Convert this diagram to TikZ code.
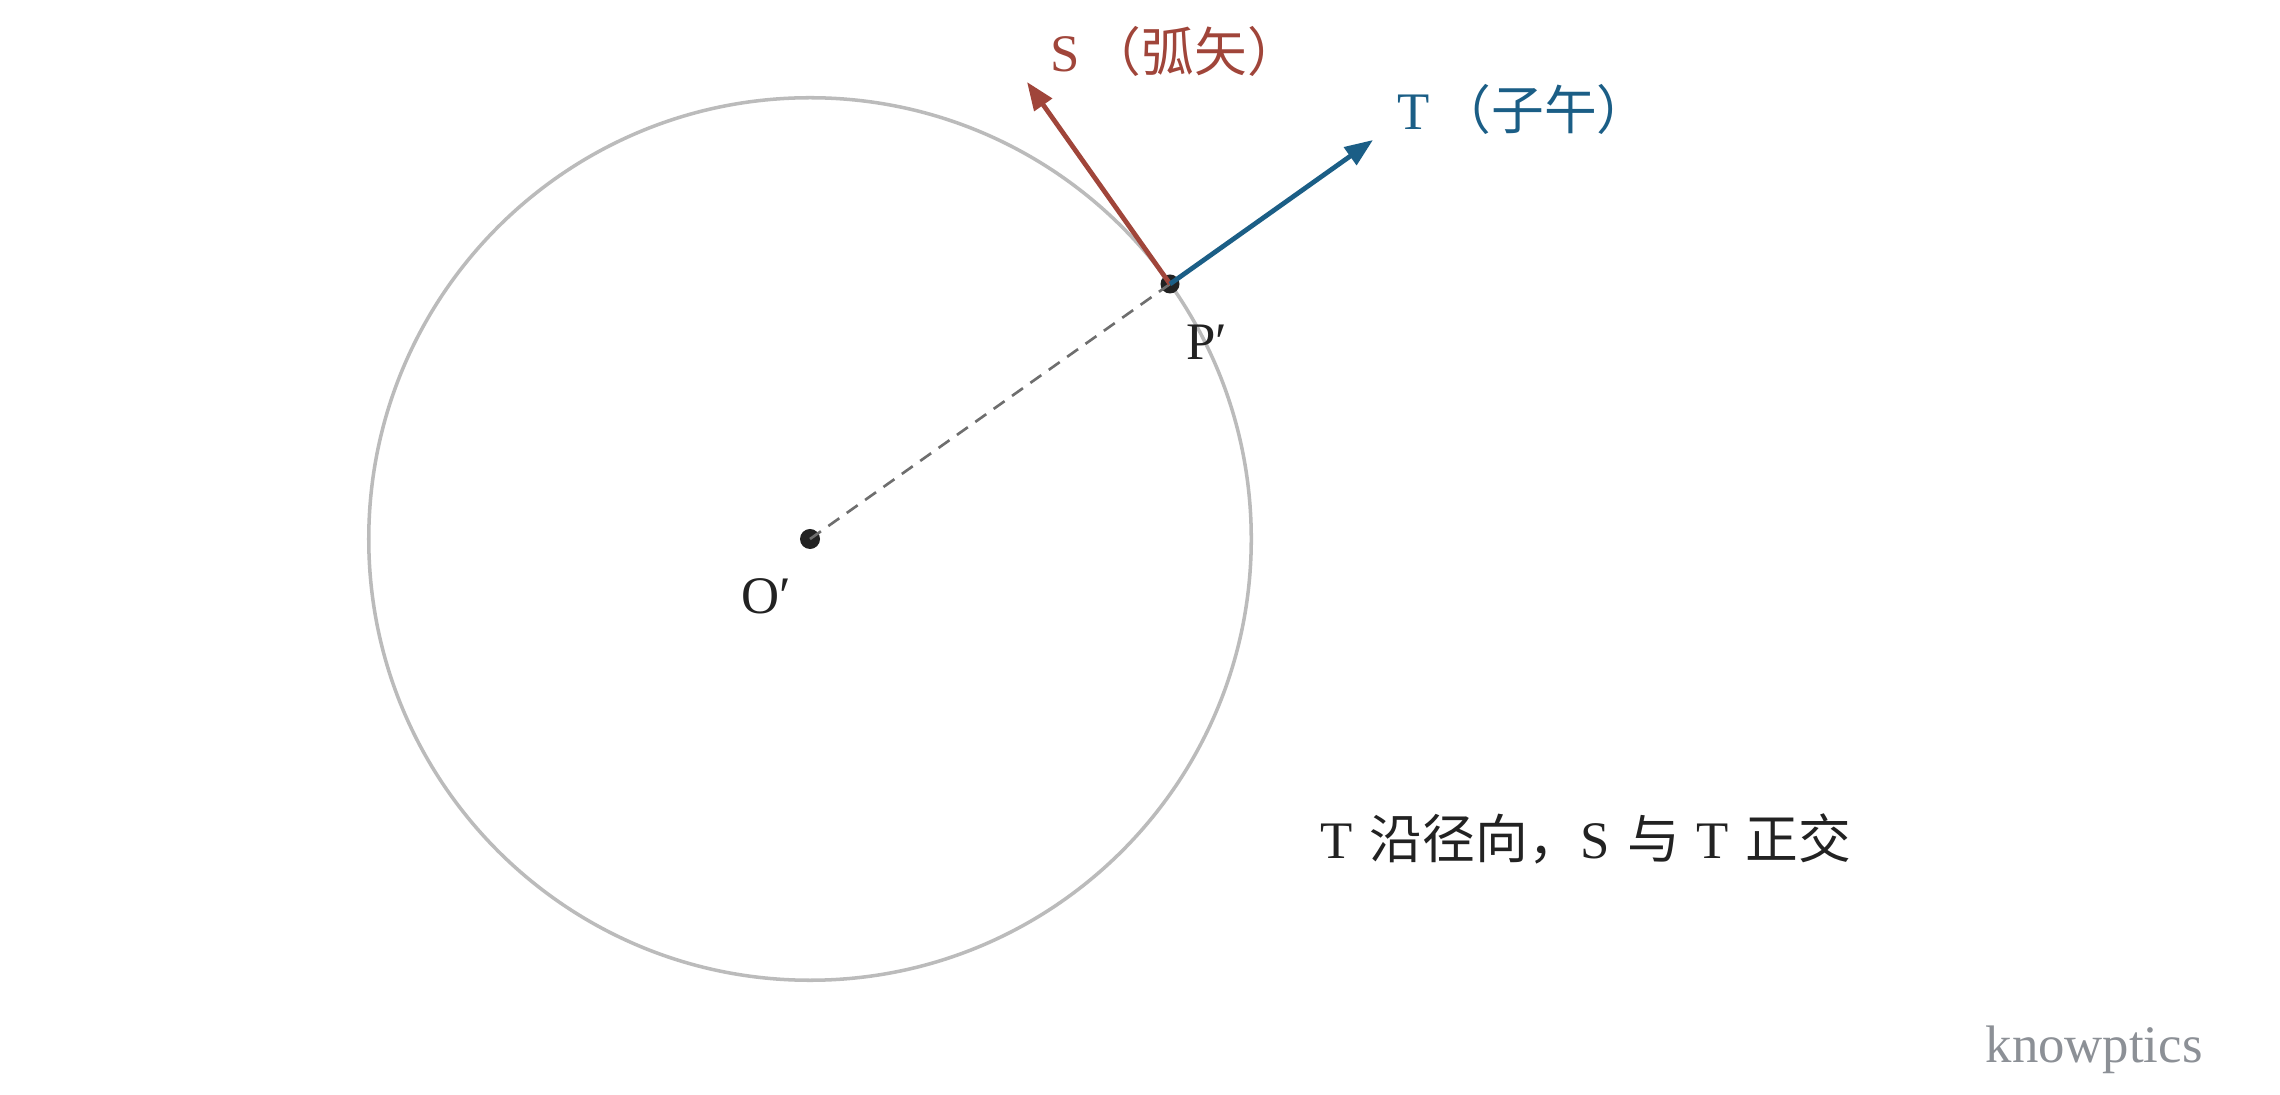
\documentclass[tikz,border=0pt]{standalone}
\usepackage{fontspec}
\setmainfont{Liberation Serif}
\newfontfamily\cjk{Noto Sans CJK SC}
\usetikzlibrary{arrows.meta}
\definecolor{sred}{HTML}{A0453A}
\definecolor{tblue}{HTML}{1B5E86}
\definecolor{circgray}{HTML}{BBBBBB}
\definecolor{dashgray}{HTML}{6E6E6E}
\definecolor{ink}{HTML}{222222}
\definecolor{wmark}{HTML}{8C9096}
\newcommand{\gapsp}{\hspace{0.32em}}
\begin{document}
\begin{tikzpicture}[x=0.01cm,y=-0.01cm,
  dotnode/.style={circle,fill=ink,inner sep=0pt,minimum size=0.2cm},
  lbl/.style={inner sep=0pt,font=\fontsize{15pt}{17pt}\selectfont},
  vec/.style={line width=1.35pt,-{Triangle[length=8pt,width=6pt]}},
  radial/.style={dashgray,line width=0.75pt,dash pattern=on 3.8pt off 2.6pt}]
\useasboundingbox (0,0) rectangle (2280,1095);
\fill[white] (0,0) rectangle (2280,1095);
% circle
\node[circle,draw=circgray,line width=1pt,minimum size=8.82cm,inner sep=0pt] (C) at (810,539) {};
% points
\node[dotnode] (O) at (810,539) {};
\node[dotnode,minimum size=0.19cm] (P) at (1170,284) {};
\coordinate (Ttip) at (1373,140);
\coordinate (Stip) at (1027,82);
% dashed radius
\draw[radial] (O.center) -- (P.center);
% vectors
\draw[vec,sred] (P.center) -- (Stip);
\draw[vec,tblue] (P.center) -- (Ttip);
% labels
\node[lbl,text=ink] (Pl) at (1207,342) {P′};
\node[lbl,text=ink] (Ol) at (766,596) {O′};
\node[lbl,text=sred,anchor=west] (Sl) at (1050,51) {S\,{\cjk （弧矢）}};
\node[lbl,text=tblue,anchor=west] (Tl) at (1397,109) {T\,{\cjk （子午）}};
\node[inner sep=0pt,anchor=west,text=ink,font=\fontsize{15pt}{17pt}\selectfont] (note) at (1320,839) {T\gapsp{\cjk 沿径向，}S\gapsp{\cjk 与}\gapsp T\gapsp{\cjk 正交}};
\node[inner sep=0pt,anchor=west,text=wmark,font=\fontsize{15pt}{17pt}\selectfont] (wm) at (1985,1050) {knowptics};
\end{tikzpicture}
\end{document}
